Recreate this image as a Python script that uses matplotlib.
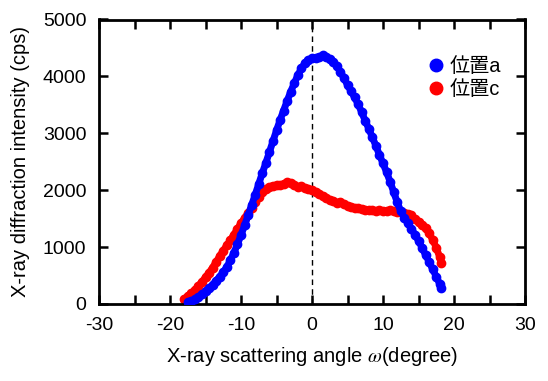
import matplotlib
matplotlib.use("Agg")
import matplotlib.pyplot as plt
from matplotlib.lines import Line2D

plt.rcParams['font.family'] = ['Liberation Sans', 'Noto Sans CJK JP', 'DejaVu Sans']
plt.rcParams['mathtext.fontset'] = 'stix'
plt.rcParams['axes.unicode_minus'] = False

# --- data ---
angle_a = [-17.5, -17, -16.5, -16, -15.5, -15, -14.5, -14, -13.5, -13, -12.5, -12,
           -11.5, -11, -10.5, -10, -9.5, -9, -8.5, -8, -7.5, -7, -6.5, -6, -5.5, -5,
           -4.5, -4, -3.5, -3, -2.5, -2, -1.5, -1, -0.5, 0, 0.5, 1, 1.5, 2, 2.5, 3,
           3.5, 4, 4.5, 5, 5.5, 6, 6.5, 7, 7.5, 8, 8.5, 9, 9.5, 10, 10.5, 11, 11.5,
           12, 12.5, 13, 13.5, 14, 14.5, 15, 15.5, 16, 16.5, 17, 17.5, 18, 18.2]
intensity_a = [30, 50, 80, 120, 170, 220, 280, 340, 410, 480, 560, 650,
               770, 900, 1050, 1210, 1380, 1560, 1740, 1920, 2110, 2300, 2480, 2670, 2860, 3050,
               3230, 3400, 3570, 3730, 3880, 4020, 4140, 4230, 4290, 4320, 4330, 4340, 4370, 4340, 4300, 4250,
               4180, 4080, 3970, 3850, 3740, 3630, 3510, 3370, 3220, 3080, 2930, 2780, 2620, 2470, 2320, 2150, 1970,
               1790, 1630, 1520, 1420, 1320, 1220, 1110, 990, 860, 740, 610, 480, 350, 280]

angle_c = [-18, -17.5, -17, -16.5, -16, -15.5, -15, -14.5, -14, -13.5, -13, -12.5, -12,
           -11.5, -11, -10.5, -10, -9.5, -9, -8.5, -8, -7.5, -7, -6.5, -6, -5.5, -5,
           -4.5, -4, -3.5, -3, -2.5, -2, -1.5, -1, -0.5, 0, 0.5, 1, 1.5, 2, 2.5, 3,
           3.5, 4, 4.5, 5, 5.5, 6, 6.5, 7, 7.5, 8, 8.5, 9, 9.5, 10, 10.5, 11, 11.5,
           12, 12.5, 13, 13.5, 14, 14.5, 15, 15.5, 16, 16.5, 17, 17.5, 18, 18.2]
intensity_c = [90, 140, 190, 250, 320, 390, 470, 550, 640, 740, 840, 940, 1030,
               1120, 1220, 1320, 1420, 1510, 1600, 1690, 1790, 1880, 1960, 2020, 2060, 2080, 2090,
               2090, 2110, 2140, 2120, 2090, 2060, 2070, 2040, 2020, 2000, 1970, 1940, 1900, 1860, 1830, 1810,
               1780, 1800, 1760, 1720, 1700, 1690, 1680, 1670, 1660, 1650, 1650, 1640, 1650, 1640, 1630, 1650, 1630,
               1620, 1610, 1600, 1580, 1560, 1500, 1440, 1380, 1330, 1240, 1130, 990, 820, 720]

series_labels = ['位置a', '位置c']
series_colors = ['#0000ff', '#ff0000']
x_ticks = [-30, -20, -10, 0, 10, 20, 30]
y_ticks = [0, 1000, 2000, 3000, 4000, 5000]

fig = plt.figure(figsize=(5.48, 3.81), dpi=100)
ax = fig.add_axes([99/548, 1-304/381, (525-99)/548, (304-19.5)/381])

ax.axvline(0, color='black', lw=1.0, ls=(0, (4, 3)), zorder=1)

ax.plot(angle_c, intensity_c, color=series_colors[1], lw=5.0, marker='o', ms=6,
        solid_capstyle='round', solid_joinstyle='round', zorder=2)
ax.plot(angle_a, intensity_a, color=series_colors[0], lw=5.0, marker='o', ms=6,
        solid_capstyle='round', solid_joinstyle='round', zorder=3)

ax.set_xlim(-30, 30)
ax.set_ylim(0, 5000)
ax.set_xticks(x_ticks)
ax.set_xticks(range(-25, 30, 10), minor=True)
ax.set_yticks(y_ticks)
ax.tick_params(which='both', direction='in', top=True, right=True, length=6.5,
               width=1.8, labelsize=14, pad=9)
for s in ax.spines.values():
    s.set_linewidth(2.0)

ax.set_xlabel('X-ray scattering angle $\\omega$(degree)', fontsize=14.5, labelpad=8)
ax.set_ylabel('X-ray diffraction intensity (cps)', fontsize=14.5, labelpad=9)

handles = [Line2D([], [], ls='none', marker='o', ms=9, color=c) for c in series_colors]
leg = ax.legend(handles, series_labels, loc='upper right', bbox_to_anchor=(0.972, 0.91),
                frameon=False, fontsize=14.5, handlelength=0.7, handletextpad=0.3,
                labelspacing=0.2, borderaxespad=0.2)

fig.savefig('out.png', dpi=100)
